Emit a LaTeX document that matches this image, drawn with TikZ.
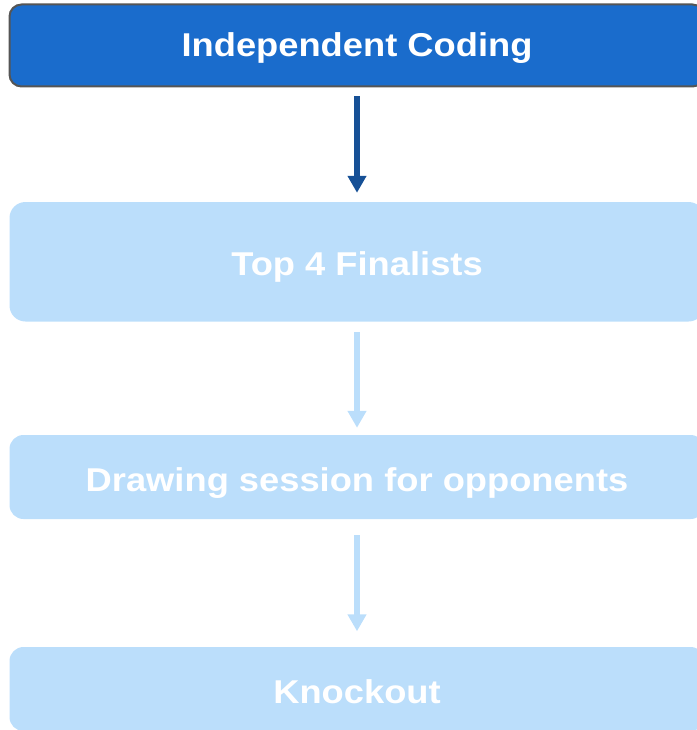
\documentclass[tikz,border=0pt]{standalone}
\usepackage{fontspec}
\newfontfamily\boxfont{Liberation Sans}[FakeStretch=1.1]
\usetikzlibrary{arrows.meta}

\definecolor{codingblue}{RGB}{26,108,204}
\definecolor{codingedge}{RGB}{85,85,85}
\definecolor{darkarrow}{RGB}{22,80,150}
\definecolor{paleblue}{RGB}{187,222,251}

\tikzset{
  stage/.style={minimum width=695pt,inner sep=0pt,text=white,
    text height=23pt,text depth=0pt,
    font=\boxfont\bfseries\fontsize{33}{38}\selectfont},
  darkstage/.style={stage,fill=codingblue,draw=codingedge,line width=2pt,rounded corners=12pt},
  palestage/.style={stage,fill=paleblue,rounded corners=#1,text height=28pt},
  flow/.style={line width=6pt,draw=#1,-{Triangle[width=18pt,length=17pt]}}
}

\begin{document}
\begin{tikzpicture}[x=1pt,y=-1pt]
  \useasboundingbox (0,0) rectangle (696,730);
  % stages
  \node[darkstage,minimum height=82pt] (coding) at (357,45.5) {Independent Coding};
  \node[palestage=16pt,minimum height=119.5pt] (finalists) at (357,261.75) {Top 4 Finalists};
  \node[palestage=14pt,minimum height=84pt] (drawing) at (357,477) {Drawing session for opponents};
  \node[palestage=14pt,minimum height=84pt] (knockout) at (357,689) {Knockout};
  % arrows between stages
  \draw[flow=darkarrow] ([yshift=-9pt]coding.south) -- ([yshift=9pt]finalists.north);
  \draw[flow=paleblue] ([yshift=-10.5pt]finalists.south) -- ([yshift=7pt]drawing.north);
  \draw[flow=paleblue] ([yshift=-16pt]drawing.south) -- ([yshift=15.5pt]knockout.north);
\end{tikzpicture}
\end{document}
